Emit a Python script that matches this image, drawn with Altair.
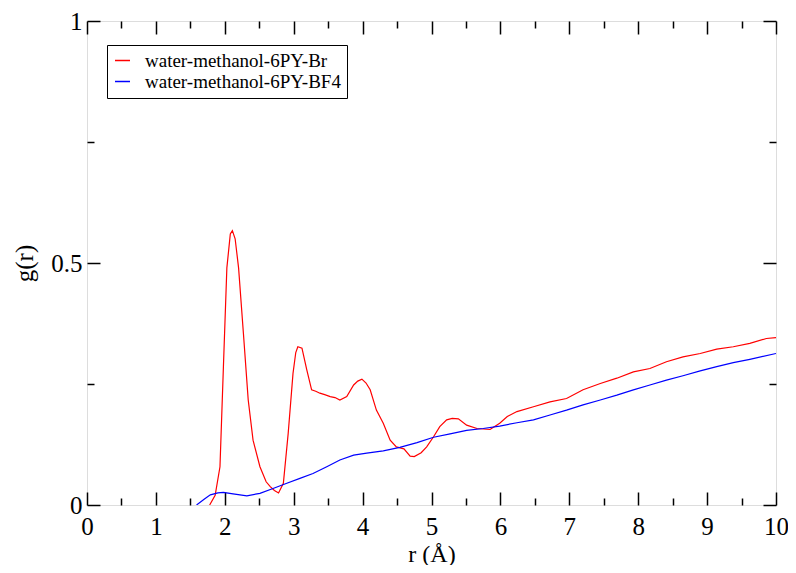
import altair as alt
import pandas as pd

# ---- data ----
r_br = [1.78, 1.86, 1.93, 1.98, 2.03, 2.08, 2.11, 2.15, 2.20, 2.27, 2.34, 2.41, 2.51, 2.60,
        2.66, 2.72, 2.78, 2.85, 2.92, 2.99, 3.03, 3.06, 3.12, 3.19, 3.26, 3.32, 3.38, 3.45,
        3.53, 3.60, 3.67, 3.77, 3.87, 3.93, 3.99, 4.05, 4.11, 4.20, 4.30, 4.40, 4.49, 4.60,
        4.69, 4.75, 4.85, 4.93, 5.03, 5.12, 5.22, 5.30, 5.39, 5.51, 5.66, 5.85, 5.99, 6.10,
        6.24, 6.48, 6.72, 6.96, 7.20, 7.45, 7.69, 7.93, 8.17, 8.41, 8.65, 8.90, 9.14, 9.38,
        9.62, 9.86, 10.0]
g_br = [0.0, 0.02, 0.079, 0.286, 0.49, 0.56, 0.567, 0.55, 0.49, 0.355, 0.217, 0.134, 0.079, 0.048,
        0.038, 0.030, 0.025, 0.045, 0.148, 0.272, 0.315, 0.327, 0.324, 0.279, 0.238, 0.235, 0.231, 0.228,
        0.224, 0.222, 0.217, 0.224, 0.248, 0.256, 0.260, 0.252, 0.238, 0.196, 0.169, 0.134, 0.120, 0.116,
        0.101, 0.100, 0.108, 0.120, 0.141, 0.162, 0.176, 0.179, 0.178, 0.165, 0.158, 0.156, 0.169, 0.183,
        0.193, 0.203, 0.213, 0.220, 0.238, 0.251, 0.262, 0.275, 0.282, 0.296, 0.306, 0.313, 0.322, 0.327,
        0.334, 0.344, 0.346]

r_bf4 = [1.59, 1.70, 1.79, 1.90, 1.98, 2.12, 2.32, 2.51, 2.70, 2.90, 3.09, 3.28, 3.48, 3.67,
         3.87, 4.06, 4.30, 4.54, 4.79, 5.03, 5.27, 5.51, 5.75, 5.99, 6.24, 6.48, 6.72, 6.96,
         7.20, 7.45, 7.69, 7.93, 8.17, 8.41, 8.65, 8.90, 9.14, 9.38, 9.62, 10.0]
g_bf4 = [0.0, 0.012, 0.021, 0.025, 0.026, 0.023, 0.019, 0.024, 0.034, 0.045, 0.055, 0.065, 0.079, 0.093,
         0.103, 0.107, 0.112, 0.119, 0.129, 0.140, 0.147, 0.154, 0.158, 0.163, 0.170, 0.176, 0.186, 0.196,
         0.207, 0.217, 0.227, 0.238, 0.248, 0.258, 0.267, 0.277, 0.286, 0.294, 0.301, 0.313]

series_names = ["water-methanol-6PY-Br", "water-methanol-6PY-BF4"]
series_colors = ["#ff0000", "#0000ff"]

x_major = [0, 1, 2, 3, 4, 5, 6, 7, 8, 9, 10]
x_minor = [0.5, 1.5, 2.5, 3.5, 4.5, 5.5, 6.5, 7.5, 8.5, 9.5]
y_major = [0, 0.5, 1]
y_minor = [0.25, 0.75]

rows = []
for name, rs, gs in [(series_names[0], r_br, g_br), (series_names[1], r_bf4, g_bf4)]:
    for i, (r, g) in enumerate(zip(rs, gs)):
        rows.append({"series": name, "r": r, "g": g, "idx": i})
df = pd.DataFrame(rows)

W, H = 689, 484
FONT = "Liberation Serif"
xs = alt.Scale(domain=[0, 10], nice=False, zero=False)
ys = alt.Scale(domain=[0, 1], nice=False, zero=False)

MAJOR, MINOR = 13, 7


def tick_axis(orient, offset, values, size):
    return alt.Axis(orient=orient, offset=offset, values=values, labels=False,
                    domain=False, grid=False, ticks=True, tickSize=size,
                    tickColor="black", tickWidth=1.5, title=None)


base = alt.Chart(df)

lines = base.mark_line(strokeWidth=1.2, clip=True).encode(
    x=alt.X("r:Q", scale=xs, axis=alt.Axis(
        orient="bottom", values=x_major, format="d", ticks=False, domain=False, grid=False,
        labelFont=FONT, labelFontSize=25, labelColor="black", labelPadding=9, labelFlush=False,
        title="r (Å)", titleFont=FONT, titleFontSize=24, titleFontWeight="normal",
        titleColor="black", titleY=56, titleBaseline="alphabetic")),
    y=alt.Y("g:Q", scale=ys, axis=alt.Axis(
        orient="left", values=y_major, format="~g", ticks=False, domain=False, grid=False,
        labelFont=FONT, labelFontSize=25, labelColor="black", labelPadding=5, labelFlush=False,
        title="g(r)", titleFont=FONT, titleFontSize=25, titleFontWeight="normal",
        titleColor="black", titleX=-55, titleBaseline="alphabetic")),
    color=alt.Color("series:N", sort=series_names,
                    scale=alt.Scale(domain=series_names, range=series_colors),
                    legend=alt.Legend(
                        title=None, orient="none", legendX=20, legendY=24,
                        symbolType="stroke", symbolSize=225, symbolStrokeWidth=1.5,
                        labelFont=FONT, labelFontSize=19, labelColor="black", labelLimit=0,
                        labelOffset=13, rowPadding=1, padding=6,
                        strokeColor="black", fillColor="white")),
    order=alt.Order("idx:Q"),
)


def dummy(xaxis, yaxis):
    return base.mark_point(opacity=0).encode(
        x=alt.X("r:Q", scale=xs, axis=xaxis),
        y=alt.Y("g:Q", scale=ys, axis=yaxis),
    )


l2 = dummy(tick_axis("top", -H, x_major, MAJOR), tick_axis("right", -W, y_major, MAJOR))
l3 = dummy(tick_axis("top", -H, x_minor, MINOR), tick_axis("right", -W, y_minor, MINOR))
l4 = dummy(tick_axis("bottom", -H, x_major, MAJOR), tick_axis("left", -W, y_major, MAJOR))
l5 = dummy(tick_axis("bottom", -H, x_minor, MINOR), tick_axis("left", -W, y_minor, MINOR))

chart = alt.layer(lines, l2, l3, l4, l5).resolve_axis(x="independent", y="independent").properties(
    width=W, height=H,
    autosize=alt.AutoSizeParams(type="none"),
    padding={"left": 79, "top": 13, "right": 12, "bottom": 60},
).configure_view(stroke="black", strokeWidth=1.5).configure(background="white")

chart.save("out.html", embed_options={"renderer": "svg", "actions": False})
